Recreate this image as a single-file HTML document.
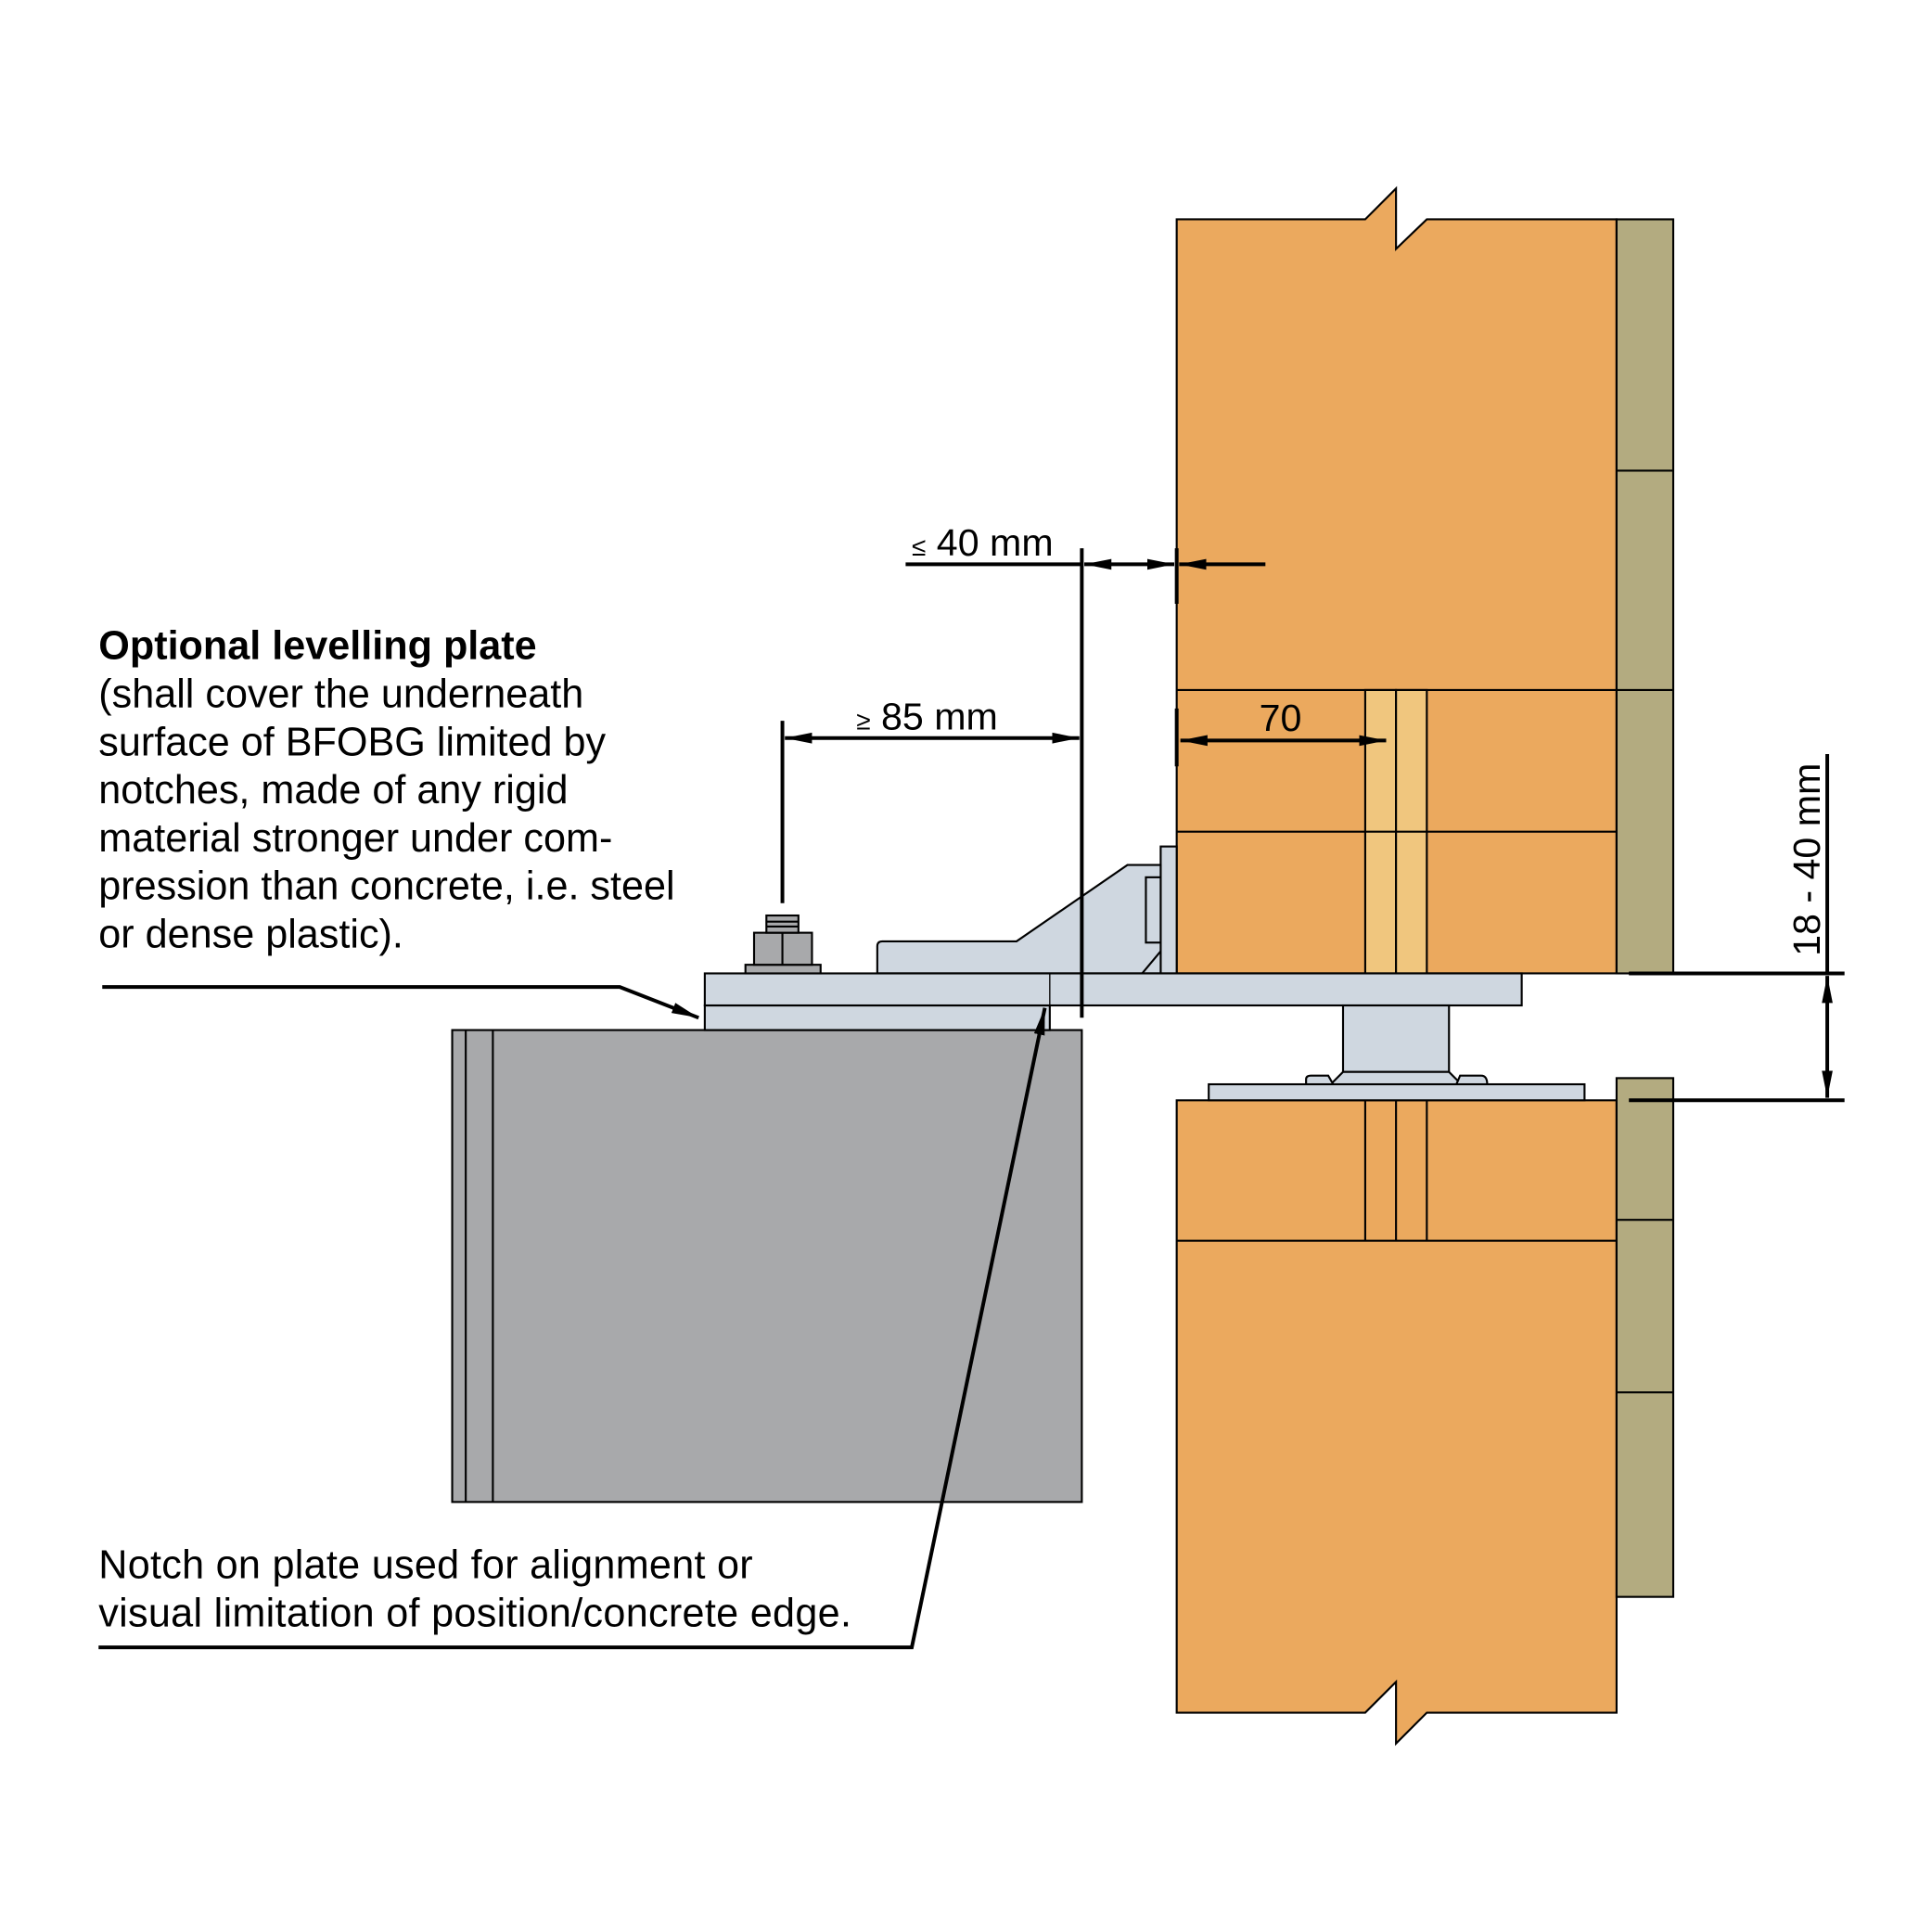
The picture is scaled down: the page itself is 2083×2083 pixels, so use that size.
<!DOCTYPE html>
<html><head><meta charset="utf-8"><style>html,body{margin:0;padding:0;background:#fff}svg{display:block}</style></head>
<body>
<svg width="2083" height="2083" viewBox="0 0 1568 1568" xmlns="http://www.w3.org/2000/svg" font-family="Liberation Sans, sans-serif">
<defs>
<marker id="b" viewBox="0 0 20 10" refX="20" refY="5" markerWidth="22" markerHeight="11" orient="auto-start-reverse" markerUnits="userSpaceOnUse"><path d="M0,1 L20,5 L0,9 z" fill="#000"/></marker>
</defs>
<g stroke="#000" stroke-width="1.6" stroke-linejoin="miter">
<path d="M955,178 L1108,178 L1133,153 L1133,202 L1158,178 L1312,178 L1312,790 L955,790 Z" fill="#EBA95E"/>
<rect x="1108" y="560" width="25" height="230" fill="#F0C67E"/>
<rect x="1133" y="560" width="25" height="230" fill="#F0C67E"/>
<line x1="955" y1="560" x2="1312" y2="560"/>
<line x1="955" y1="675" x2="1312" y2="675"/>
<rect x="1312" y="178" width="46" height="612" fill="#B3AB80"/>
<line x1="1312" y1="382" x2="1358" y2="382"/>
<line x1="1312" y1="560" x2="1358" y2="560"/>
<path d="M955,893 L1312,893 L1312,1390 L1158,1390 L1133,1415 L1133,1365 L1108,1390 L955,1390 Z" fill="#EBA95E"/>
<line x1="955" y1="1007" x2="1312" y2="1007"/>
<line x1="1108" y1="893" x2="1108" y2="1007"/>
<line x1="1133" y1="893" x2="1133" y2="1007"/>
<line x1="1158" y1="893" x2="1158" y2="1007"/>
<rect x="1312" y="875" width="46" height="421" fill="#B3AB80"/>
<line x1="1312" y1="990" x2="1358" y2="990"/>
<line x1="1312" y1="1130" x2="1358" y2="1130"/>
<rect x="367" y="836" width="511" height="383" fill="#A8A9AB"/>
<line x1="378" y1="836" x2="378" y2="1219"/>
<line x1="400" y1="836" x2="400" y2="1219"/>
<rect x="942" y="687" width="13" height="103" fill="#CFD7E0"/>
<path d="M712,790 L712,768 Q712,764 716,764 L825,764 L915,702 L942,702 L942,790 Z" fill="#CFD7E0"/>
<rect x="930" y="712" width="12" height="53" fill="#CFD7E0"/>
<line x1="927" y1="790" x2="942" y2="772"/>
<rect x="572" y="816" width="280" height="20" fill="#CFD7E0"/>
<rect x="572" y="790" width="663" height="26" fill="#CFD7E0"/>
<line x1="852" y1="790" x2="852" y2="836" stroke-width="1"/>
<rect x="605" y="783" width="61" height="7" fill="#A8A9AB"/>
<rect x="612" y="757" width="47" height="26" fill="#A8A9AB"/>
<line x1="635" y1="757" x2="635" y2="783"/>
<rect x="622" y="743" width="26" height="14" fill="#A8A9AB"/>
<line x1="622" y1="748" x2="648" y2="748"/><line x1="622" y1="752" x2="648" y2="752"/>
<rect x="1090" y="816" width="86" height="54" fill="#CFD7E0"/>
<path d="M1090,870 L1176,870 L1186,880 L1080,880 Z" fill="#CFD7E0"/>
<path d="M1060,880 L1060,876 Q1060,873 1064,873 L1078,873 L1082,880 Z" fill="#CFD7E0"/>
<path d="M1182,880 L1185,873 L1202,873 Q1207,873 1207,880 Z" fill="#CFD7E0"/>
<rect x="981" y="880" width="305" height="13" fill="#CFD7E0"/>
</g>
<g stroke="#000" stroke-width="3" fill="none">
<line x1="878" y1="445" x2="878" y2="826"/>
<line x1="955" y1="445" x2="955" y2="490"/>
<line x1="735" y1="458" x2="878" y2="458"/>
<line x1="880" y1="458" x2="953" y2="458" marker-start="url(#b)" marker-end="url(#b)"/>
<line x1="1027" y1="458" x2="957" y2="458" marker-end="url(#b)"/>
<line x1="635" y1="585" x2="635" y2="733"/>
<line x1="637" y1="599" x2="876" y2="599" marker-start="url(#b)" marker-end="url(#b)"/>
<line x1="955" y1="575" x2="955" y2="622"/>
<line x1="958" y1="601" x2="1125" y2="601" marker-start="url(#b)" marker-end="url(#b)"/>
<line x1="1483" y1="612" x2="1483" y2="790"/>
<line x1="1483" y1="792" x2="1483" y2="891" marker-start="url(#b)" marker-end="url(#b)"/>
<line x1="1322" y1="790" x2="1497" y2="790"/>
<line x1="1322" y1="893" x2="1497" y2="893"/>
<polyline points="83,801 503,801 567,826" marker-end="url(#b)"/>
<polyline points="80,1337 740,1337 848,818" marker-end="url(#b)"/>
</g>
<g font-size="32.5" fill="#000">
<text x="740" y="451" font-size="31"><tspan font-size="21">≤</tspan> 40 mm</text>
<text x="695" y="592" font-size="31"><tspan font-size="21">≥</tspan> 85 mm</text>
<text x="1022" y="593" font-size="31">70</text>
<text transform="translate(1477,776) rotate(-90)" font-size="31">18 - 40 mm</text>
<text x="80" y="535" font-weight="bold">Optional levelling plate</text>
<text x="80" y="574">(shall cover the underneath</text>
<text x="80" y="613">surface of BFOBG limited by</text>
<text x="80" y="652">notches, made of any rigid</text>
<text x="80" y="691">material stronger under com-</text>
<text x="80" y="730">pression than concrete, i.e. steel</text>
<text x="80" y="769">or dense plastic).</text>
<text x="80" y="1281" textLength="531">Notch on plate used for alignment or</text>
<text x="80" y="1320" textLength="611">visual limitation of position/concrete edge.</text>
</g>
</svg>
</body></html>
